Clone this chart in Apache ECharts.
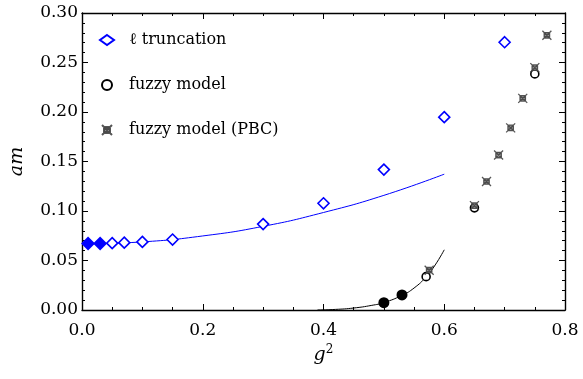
<html>
<head>
    <meta charset="UTF-8">
    <title>am vs g2</title>
    <script src="https://cdn.jsdelivr.net/npm/echarts@6/dist/echarts.min.js"></script>
    <style>
        body { margin: 0; background: #fff; }
    </style>
</head>
<body>
    <div id="chart" style="width:583px; height:379px;"></div>
    <script>
        // l truncation points
        var truncFilled = [[0.01, 0.0672], [0.03, 0.0672]];
        var truncOpen = [[0.05, 0.0675], [0.07, 0.068], [0.1, 0.0688], [0.15, 0.0712],
                         [0.3, 0.0868], [0.4, 0.1078], [0.5, 0.1418], [0.6, 0.1948], [0.7, 0.2705]];
        var truncFit = [[0, 0.0668], [0.1, 0.0688], [0.2, 0.0748], [0.3, 0.0845], [0.4, 0.0985],
                        [0.5, 0.1158], [0.6, 0.1372]];
        // fuzzy model
        var fuzzyOpen = [[0.57, 0.0337], [0.65, 0.1032], [0.75, 0.2385]];
        var fuzzyFilled = [[0.5, 0.0074], [0.53, 0.0152]];
        var fuzzyFit = [[0.39, 0], [0.42, 0.0006], [0.45, 0.002], [0.48, 0.0047], [0.5, 0.0075],
                        [0.53, 0.0148], [0.55, 0.0222], [0.57, 0.0335], [0.585, 0.0455], [0.6, 0.0608]];
        // fuzzy model (PBC)
        var fuzzyPBC = [[0.575, 0.0402], [0.65, 0.1054], [0.67, 0.1298], [0.69, 0.1565], [0.71, 0.184],
                        [0.73, 0.2138], [0.75, 0.2448], [0.77, 0.2775]];

        var serif = 'DejaVu Serif';
        var starPath = 'path://M0,0L10,10M10,0L0,10M2,2L8,2L8,8L2,8Z';

        var chart = echarts.init(document.getElementById('chart'));
        var frameAxis = {
            axisLine: { show: true, onZero: false, lineStyle: { color: '#000', width: 1.4 } },
            axisTick: { show: true, inside: true, length: 6, lineStyle: { color: '#000' } },
            splitLine: { show: false },
            axisLabel: { show: false }
        };
        var xMinor = { show: true, splitNumber: 4, length: 3, lineStyle: { color: '#000' } };
        var yMinor = { show: true, splitNumber: 5, length: 3, lineStyle: { color: '#000' } };
        chart.setOption({
            animation: false,
            grid: { left: 82, right: 18, top: 13, bottom: 69 },
            legend: {
                orient: 'vertical', left: 94, top: 27, itemGap: 29, itemWidth: 14, itemHeight: 10,
                textStyle: { fontFamily: serif, fontSize: 16, color: '#000', padding: [0, 0, 0, 10] },
                data: ['ℓ truncation', 'fuzzy model', 'fuzzy model (PBC)']
            },
            xAxis: [
                Object.assign({}, frameAxis, {
                    type: 'value', min: 0, max: 0.8, interval: 0.2, minorTick: xMinor,
                    axisLabel: { show: true, fontFamily: serif, fontSize: 17, color: '#000', margin: 12,
                        formatter: function (v) { return v.toFixed(1); } },
                    name: '{g|g}{s|2}', nameLocation: 'middle', nameGap: 34,
                    nameTextStyle: { rich: {
                        g: { fontFamily: serif, fontStyle: 'italic', fontSize: 19, color: '#000' },
                        s: { fontFamily: serif, fontSize: 12, color: '#000', verticalAlign: 'top', padding: [0, 0, 10, 0] }
                    } }
                }),
                Object.assign({}, frameAxis, {
                    type: 'value', position: 'top', min: 0, max: 0.8, interval: 0.2, minorTick: xMinor
                })
            ],
            yAxis: [
                Object.assign({}, frameAxis, {
                    type: 'value', min: 0, max: 0.3, interval: 0.05, minorTick: yMinor,
                    axisLabel: { show: true, fontFamily: serif, fontSize: 17, color: '#000', margin: 4,
                        formatter: function (v) { return v.toFixed(2); } },
                    name: 'am', nameLocation: 'middle', nameGap: 55, nameRotate: 90,
                    nameTextStyle: { fontFamily: serif, fontStyle: 'italic', fontSize: 19, color: '#000' }
                }),
                Object.assign({}, frameAxis, {
                    type: 'value', position: 'right', min: 0, max: 0.3, interval: 0.05, minorTick: yMinor
                })
            ],
            series: [
                { type: 'line', data: truncFit, smooth: true, showSymbol: false, symbol: 'none',
                  lineStyle: { color: '#0000ff', width: 1 }, z: 1 },
                { type: 'line', data: fuzzyFit, smooth: true, showSymbol: false, symbol: 'none',
                  lineStyle: { color: '#000', width: 1 }, z: 1 },
                { name: 'ℓ truncation', type: 'scatter', data: truncOpen, symbol: 'diamond', symbolSize: [11, 11],
                  itemStyle: { color: '#fff', borderColor: '#0000ff', borderWidth: 1.6, opacity: 1 }, z: 3 },
                { type: 'scatter', data: truncFilled, symbol: 'diamond', symbolSize: [14, 14],
                  itemStyle: { color: '#0000ff', opacity: 1 }, z: 3 },
                { name: 'fuzzy model', type: 'scatter', data: fuzzyOpen, symbol: 'circle', symbolSize: 8,
                  itemStyle: { color: '#fff', borderColor: '#000', borderWidth: 1.6, opacity: 1 }, z: 3 },
                { type: 'scatter', data: fuzzyFilled, symbol: 'circle', symbolSize: 11,
                  itemStyle: { color: '#000', opacity: 1 }, z: 3 },
                { name: 'fuzzy model (PBC)', type: 'scatter', data: fuzzyPBC, symbol: starPath, symbolSize: 9,
                  itemStyle: { color: '#888', borderColor: '#444', borderWidth: 1.3, opacity: 0.9 }, z: 4 }
            ]
        });
    </script>
</body>
</html>
